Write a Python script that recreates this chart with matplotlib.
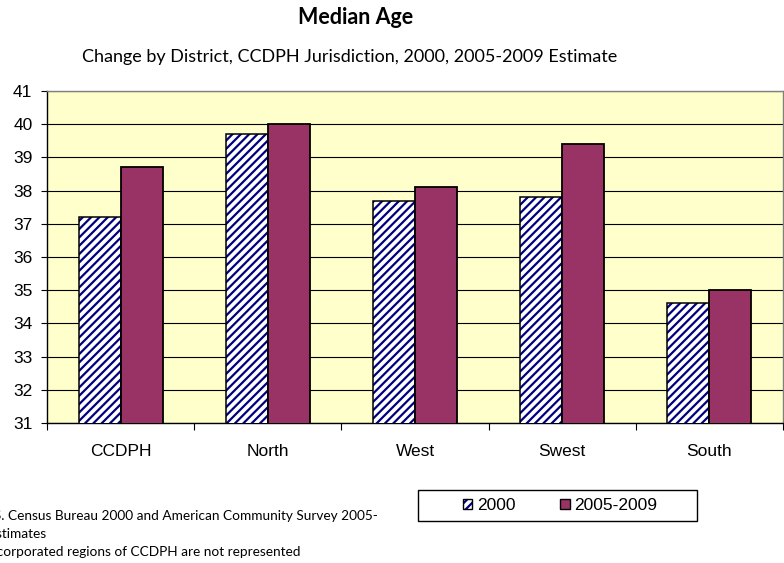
import numpy as np
import matplotlib.pyplot as plt
from matplotlib.patches import Patch, Rectangle

# Median age by district
districts = ['CCDPH', 'North', 'West', 'Swest', 'South']
age_2000 = [37.2, 39.7, 37.7, 37.8, 34.6]
age_2005_2009 = [38.7, 40.0, 38.1, 39.4, 35.0]
series_labels = ['2000', '2005-2009']

bg_color = '#FFFFCC'
purple = '#993366'
navy = '#000080'

plt.rcParams['font.family'] = ['Liberation Sans', 'DejaVu Sans']
plt.rcParams['hatch.linewidth'] = 1.6

fig = plt.figure(figsize=(7.84, 5.63), dpi=100)
ax = fig.add_axes([47 / 784, 1 - 423 / 563, 736 / 784, 332 / 563])
ax.set_facecolor(bg_color)

x = np.arange(len(districts))
w = 1 / 3.5
# hatch takes the edge colour, so draw the navy stripes first and the black outline on top
ax.bar(x - w / 2, age_2000, w, color='white', edgecolor=navy,
       hatch='////', linewidth=0, zorder=3)
ax.bar(x - w / 2, age_2000, w, fill=False, edgecolor='black',
       linewidth=1.1, zorder=4)
ax.bar(x + w / 2, age_2005_2009, w, color=purple, edgecolor='black',
       linewidth=1.3, zorder=4)

ax.set_ylim(31, 41)
ax.set_xlim(-0.5, len(districts) - 0.5)
ax.set_yticks(np.arange(31, 42, 1))
ax.yaxis.grid(True, color='black', linewidth=0.8)
ax.set_axisbelow(True)
ax.tick_params(axis='y', direction='out', length=4.5, width=0.8, pad=6,
               labelsize=12.5)

# category boundaries as ticks, names centred in each slot
ax.set_xticks(np.arange(-0.5, len(districts), 1))
ax.set_xticklabels([])
ax.set_xticks(x, minor=True)
ax.set_xticklabels(districts, minor=True)
ax.tick_params(axis='x', which='major', direction='out', length=5, width=0.8)
ax.tick_params(axis='x', which='minor', length=0, pad=15, labelsize=12.5)

for side in ['left', 'bottom']:
    ax.spines[side].set_color('black')
    ax.spines[side].set_linewidth(1.0)
for side in ['top', 'right']:
    ax.spines[side].set_color('#808080')
    ax.spines[side].set_linewidth(1.0)

fig.text(356 / 784, 1 - 18 / 563, 'Median Age', ha='center', va='center',
         fontsize=15.5, fontweight='bold', family=['Lato', 'DejaVu Sans'])
fig.text(350 / 784, 1 - 57 / 563,
         'Change by District, CCDPH Jurisdiction, 2000, 2005-2009 Estimate',
         ha='center', va='center', fontsize=13, family=['Lato', 'DejaVu Sans'])

# legend box
fig.add_artist(Rectangle((418 / 784, 1 - 521 / 563), 279 / 784, 31 / 563,
                         transform=fig.transFigure, facecolor='white',
                         edgecolor='black', linewidth=1.0))
h2000 = (Patch(facecolor='white', edgecolor=navy, hatch='////', linewidth=0),
         Patch(fill=False, edgecolor='black', linewidth=1.0))
h2005 = Patch(facecolor=purple, edgecolor='black', linewidth=1.0)
leg = fig.legend([h2000, h2005], series_labels, ncol=2, loc='center',
                 bbox_to_anchor=(560 / 784, 1 - 505.5 / 563), frameon=False,
                 fontsize=12.5, handlelength=0.55, handleheight=0.55,
                 handletextpad=0.25, columnspacing=2.6,
                 borderpad=0, borderaxespad=0)

# source notes, left part runs off the page edge
notes = ['Source: U.S. Census Bureau 2000 and American Community Survey 2005-',
         '2009 Estimates',
         'Note: Incorporated regions of CCDPH are not represented']
note_ends = [378, 46, 300]
for i, (txt, xe) in enumerate(zip(notes, note_ends)):
    fig.text(xe / 784, 1 - (516 + 18 * i) / 563, txt, ha='right', va='center',
             fontsize=9.8, family=['Lato', 'DejaVu Sans'])

fig.savefig('out.png', dpi=100, facecolor='white')
